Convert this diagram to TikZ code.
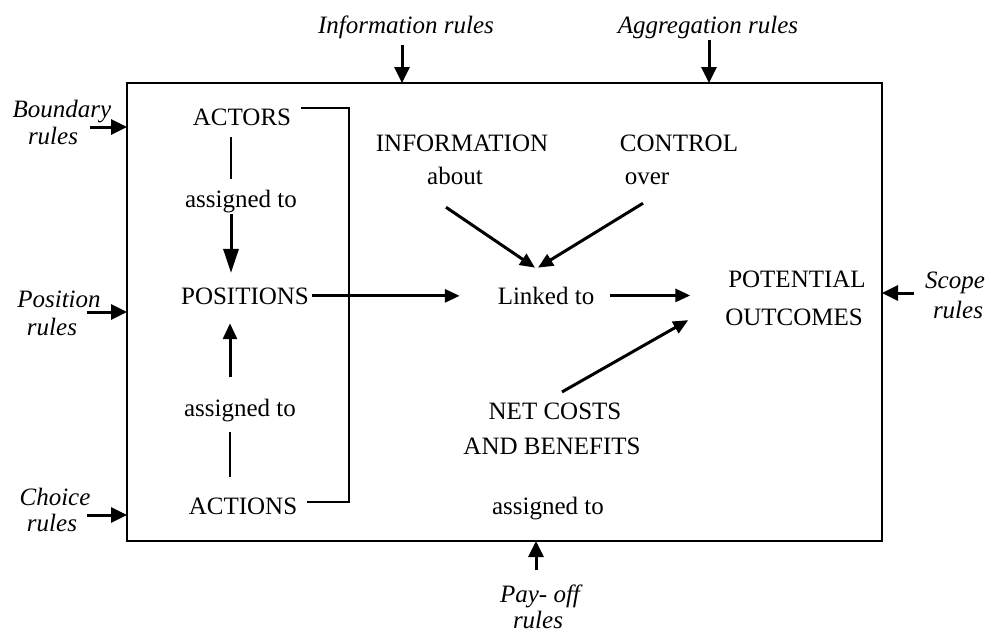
\documentclass[tikz,border=0pt]{standalone}
\usepackage{fontspec}
\setmainfont{Liberation Serif}
\usetikzlibrary{arrows.meta}
\begin{document}
\begin{tikzpicture}[x=1pt,y=-1pt,
  every node/.style={inner sep=0pt, outer sep=0pt, anchor=base,
    font=\fontsize{25}{30}\selectfont},
  rulelabel/.style={font=\fontsize{25}{30}\selectfont\itshape},
  conn/.style={line width=3pt, -{Triangle[length=15pt,width=13pt]}},
  upconn/.style={line width=3pt, -{Triangle[length=16pt,width=14pt]}},
  bigconn/.style={line width=3pt, -{Triangle[length=24pt,width=15pt]}},
  side/.style={line width=3pt, -{Triangle[length=16pt,width=15pt]}},
  tie/.style={line width=1.4pt},
  bracket/.style={line width=2pt},
]
\useasboundingbox (0,0) rectangle (991,635);

% the action arena
\node[draw, line width=2pt, anchor=center, minimum width=755pt,
      minimum height=458pt] (frame) at (504.5,312) {};

% rules acting on the arena
\node[rulelabel] (inforule) at (406,33) {Information rules};
\node[rulelabel] (aggrule) at (708,33) {Aggregation rules};
\node[rulelabel] (bnd1) at (62,117) {Boundary};
\node[rulelabel] (bnd2) at (53,144) {rules};
\node[rulelabel] (pos1) at (59,307) {Position};
\node[rulelabel] (pos2) at (52,335) {rules};
\node[rulelabel] (cho1) at (55,505) {Choice};
\node[rulelabel] (cho2) at (52,531) {rules};
\node[rulelabel] (scp1) at (955,288) {Scope};
\node[rulelabel] (scp2) at (958,318) {rules};
\node[rulelabel] (pay1) at (540,602) {Pay- off};
\node[rulelabel] (pay2) at (538,628) {rules};

\coordinate (bndtail) at (90,127);
\coordinate (postail) at (87,312);
\coordinate (chotail) at (87,515);
\coordinate (scptail) at (914,293);
\coordinate (paytail) at (536,570);

\draw[side, shorten <=7pt] ([xshift=-4pt]inforule.south) -- ([xshift=-4pt]inforule.south |- frame.north);
\draw[side, shorten <=1.6pt] ([xshift=1pt]aggrule.south) -- ([xshift=1pt]aggrule.south |- frame.north);
\draw[side] (bndtail) -- (bndtail -| frame.west);
\draw[side] (postail) -- (postail -| frame.west);
\draw[side] (chotail) -- (chotail -| frame.west);
\draw[side] (scptail) -- (scptail -| frame.east);
\draw[side] (paytail) -- (paytail |- frame.south);

% elements inside the arena
\node (actors) at (242,125) {ACTORS};
\node (as1) at (241,207) {assigned to};
\node (positions) at (245,304) {POSITIONS};
\node (as2) at (240,416) {assigned to};
\node (actions) at (243,514) {ACTIONS};
\node (information) at (462,151) {INFORMATION};
\node (control) at (679,151) {CONTROL};
\node (about) at (455,184) {about};
\node (over) at (647,184) {over};
\node (linked) at (546,304) {Linked to};
\node (potential) at (797,287) {POTENTIAL};
\node (outcomes) at (794,325) {OUTCOMES};
\node (netcosts) at (555,419) {NET COSTS};
\node (benefits) at (552,454) {AND BENEFITS};
\node (as3) at (548,514) {assigned to};

% left column
\draw[tie, shorten <=12pt, shorten >=11pt]
  ([xshift=-11pt]actors.south) -- ([xshift=-10pt]as1.north);
\draw[bigconn, shorten <=1.6pt, shorten >=14.5pt]
  ([xshift=-10pt]as1.south) -- ([xshift=-14pt]positions.north);
\draw[upconn, shorten <=22pt, shorten >=19pt]
  ([xshift=-10pt]as2.north) -- ([xshift=-15pt]positions.south);
\draw[tie, shorten <=10.6pt, shorten >=20.5pt]
  ([xshift=-10pt]as2.south) -- ([xshift=-13pt]actions.north);

% bracket grouping actors, positions and actions
\draw[bracket] ([xshift=10pt]actors.north east) -- ++(48,0)
  |- ([xshift=10pt,yshift=3.5pt]actions.east);

% flows to the outcomes
\draw[conn, shorten <=3pt, shorten >=38pt]
  (positions.east) -- (positions.east -| linked.west);
\draw[conn, shorten <=16pt, shorten >=38pt]
  (linked.east) -- (linked.east -| potential.west);
\draw[conn] ([xshift=-9pt,yshift=-23pt]about.south) -- ([xshift=-11pt,yshift=19pt]linked.north);
\draw[conn] ([xshift=-4pt,yshift=-19pt]over.south) -- ([xshift=-8pt,yshift=19pt]linked.north);
\draw[conn] ([xshift=7pt,yshift=10.5pt]netcosts.north) -- ([xshift=-37pt,yshift=-3.3pt]outcomes.west);
\end{tikzpicture}
\end{document}
